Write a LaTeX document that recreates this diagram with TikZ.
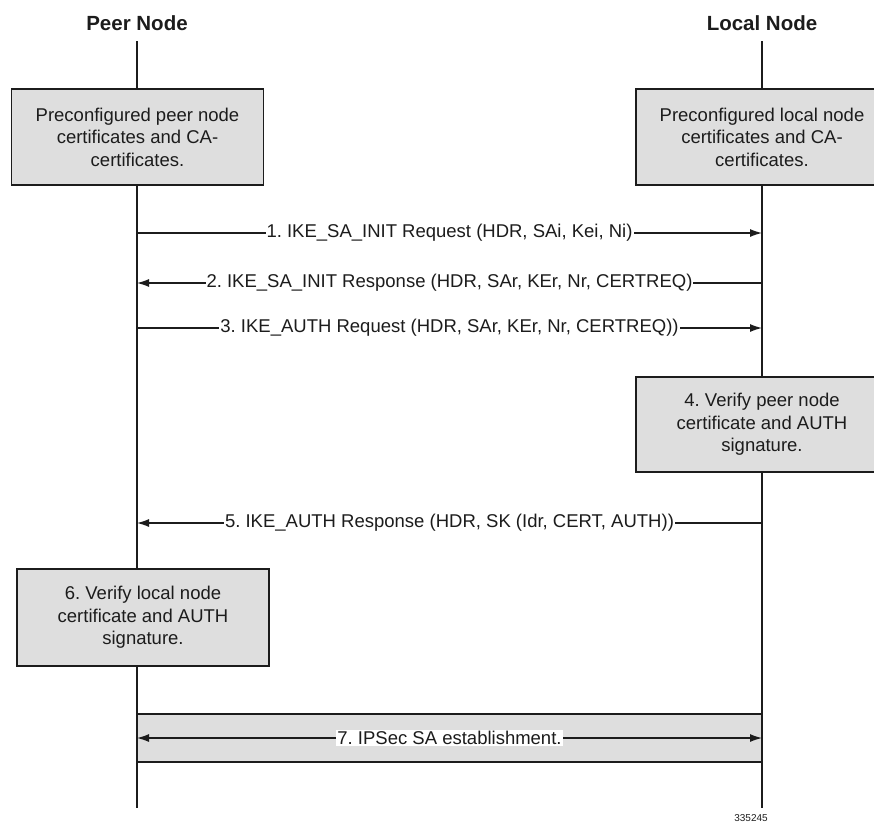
\documentclass[tikz,border=0pt]{standalone}
\usepackage{fontspec}
\setmainfont{Liberation Sans}
\usetikzlibrary{arrows.meta}
\definecolor{boxgray}{HTML}{DEDEDE}
\definecolor{ink}{HTML}{1C1C1C}
\frenchspacing
\begin{document}
\begin{tikzpicture}[x=1pt,y=-1pt,
  >={Latex[length=12pt,width=8pt]},
  box/.style={draw=ink, line width=1.3pt, fill=boxgray, minimum width=252pt,
    minimum height=96pt, align=center, inner sep=0pt,
    font=\fontsize{18.5}{22.5}\selectfont, text=ink},
  lbl/.style={fill=white, inner xsep=1pt, inner ysep=1pt,
    font=\fontsize{18.5}{22}\selectfont, text=ink},
  msg/.style={line width=1.2pt, draw=ink, ->},
  life/.style={line width=1.2pt, draw=ink},
  head/.style={font=\bfseries\fontsize{20.5}{24}\selectfont, text=ink},
  band/.style={draw=ink, line width=1.3pt, fill=boxgray, minimum width=625pt,
    minimum height=48pt, inner sep=0pt}]
\useasboundingbox (0,0) rectangle (874,827);

% headers
\node[head] (peer) at (137,23) {Peer Node};
\node[head] (local) at (762,23) {Local Node};

% lifelines
\coordinate (ptop) at (137,41);
\coordinate (pbot) at (137,808);
\coordinate (ltop) at (762,41);
\coordinate (lbot) at (762,808);
\draw[life] (ptop) -- (pbot);
\draw[life] (ltop) -- (lbot);

% boxes
\node[box] (pre1) at (137.5,137) {Preconfigured peer node\\certificates and CA-\\certificates.};
\node[box] (pre2) at (762,137) {Preconfigured local node\\certificates and CA-\\certificates.};
\node[box, minimum height=95pt] (ver4) at (762,424.5) {4. Verify peer node\\certificate and AUTH\\signature.};
\node[box, minimum height=97pt] (ver6) at (143,617.5) {6. Verify local node\\certificate and AUTH\\signature.};

% messages
\coordinate (p1) at (137,233); \coordinate (l1) at (762,233);
\coordinate (p2) at (137,283); \coordinate (l2) at (762,283);
\coordinate (p3) at (137,328); \coordinate (l3) at (762,328);
\coordinate (p5) at (137,523); \coordinate (l5) at (762,523);
\coordinate (p7) at (137,738); \coordinate (l7) at (762,738);

\draw[msg] (p1) -- node[lbl] (m1) {1. IKE\_SA\_INIT Request (HDR, SAi, Kei, Ni)} (l1);
\draw[msg] (l2) -- node[lbl] (m2) {2. IKE\_SA\_INIT Response (HDR, SAr, KEr, Nr, CERTREQ)} (p2);
\draw[msg] (p3) -- node[lbl] (m3) {3. IKE\_AUTH Request (HDR, SAr, KEr, Nr, CERTREQ))} (l3);
\draw[msg] (l5) -- node[lbl] (m5) {5. IKE\_AUTH Response (HDR, SK (Idr, CERT, AUTH))} (p5);

% band 7
\node[band] (sa) at (449.5,738) {};
\draw[msg, <->] (p7) -- node[lbl] (m7) {7. IPSec SA establishment.} (l7);

% figure number
\node[font=\fontsize{10}{11}\selectfont, text=ink] (fig) at (751,818) {335245};
\end{tikzpicture}
\end{document}
